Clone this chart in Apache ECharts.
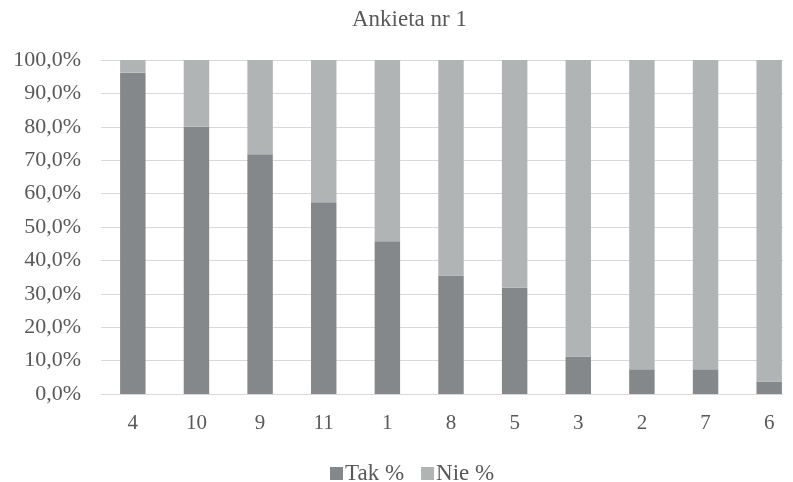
<!DOCTYPE html>
<html>
<head>
<meta charset="utf-8">
<script src="https://cdn.jsdelivr.net/npm/echarts@6/dist/echarts.min.js"></script>
<style>
html,body{margin:0;padding:0;background:#fff;}
#wrap{width:783px;height:482px;background:#fff;overflow:hidden;}
#chart{width:810px;height:482px;}
</style>
</head>
<body>
<div id="wrap"><div id="chart"></div></div>
<script>
const titleText = 'Ankieta nr 1';
const categories = ['4','10','9','11','1','8','5','3','2','7','6'];
const takValues = [96.2, 80.0, 71.8, 57.4, 45.7, 35.5, 31.8, 11.2, 7.4, 7.4, 3.7];
const nieValues = [3.8, 20.0, 28.2, 42.6, 54.3, 64.5, 68.2, 88.8, 92.6, 92.6, 96.3];
const seriesNames = ['Tak %', 'Nie %'];

const font = '"Liberation Serif", "Times New Roman", serif';
const textColor = '#595959';

const chart = echarts.init(document.getElementById('chart'), null, {renderer: 'canvas'});
chart.setOption({
  animation: false,
  backgroundColor: '#fff',
  title: {
    text: titleText,
    left: 347,
    top: 3,
    textStyle: {fontFamily: font, fontSize: 23, fontWeight: 'normal', color: textColor}
  },
  legend: {
    data: seriesNames,
    left: 325,
    top: 457,
    itemWidth: 13,
    itemHeight: 13,
    itemGap: 17,
    icon: 'rect',
    textStyle: {fontFamily: font, fontSize: 23, color: textColor, padding: [0,0,0,-3]}
  },
  grid: {left: 101, top: 60, width: 700, height: 334, containLabel: false},
  xAxis: {
    type: 'category',
    data: categories,
    axisTick: {show: false},
    axisLine: {show: true, lineStyle: {color: '#d9d9d9', width: 1}},
    axisLabel: {fontFamily: font, fontSize: 21, color: textColor, margin: 19}
  },
  yAxis: {
    type: 'value',
    min: 0,
    max: 100,
    interval: 10,
    axisLine: {show: false},
    axisTick: {show: false},
    splitLine: {lineStyle: {color: '#d9d9d9', width: 1}},
    axisLabel: {
      fontFamily: font, fontSize: 22, color: textColor, margin: 20,
      formatter: v => v.toFixed(1).replace('.', ',') + '%'
    }
  },
  series: [
    {name: seriesNames[0], type: 'bar', stack: 'total', data: takValues, barWidth: '40%',
     itemStyle: {color: '#85888a'}},
    {name: seriesNames[1], type: 'bar', stack: 'total', data: nieValues, barWidth: '40%',
     itemStyle: {color: '#b1b4b5'}}
  ]
});
</script>
</body>
</html>
